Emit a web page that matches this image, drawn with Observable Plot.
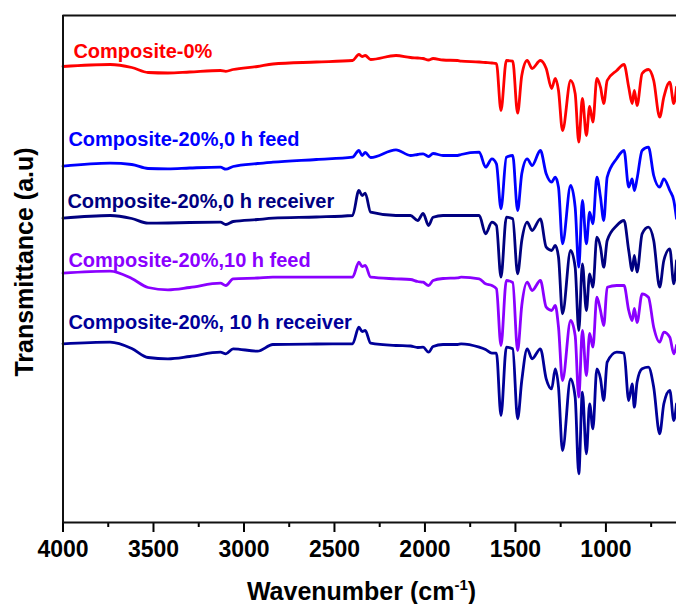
<!DOCTYPE html>
<html><head><meta charset="utf-8">
<script src="https://cdn.jsdelivr.net/npm/d3@7"></script>
<script src="https://cdn.jsdelivr.net/npm/@observablehq/plot@0.6"></script>
<style>
html,body{margin:0;padding:0;background:#fff}
#chart svg{display:block}
</style>
</head><body><div id="chart"></div>
<script>
// Wavenumbers (cm^-1) at which the spectra were read
const wavenumber = [4000, 3740, 3620, 3530, 3420, 3300, 3130, 3100, 3060, 2925, 2840, 2600, 2400, 2365, 2347, 2330, 2300, 2160, 2080, 2040, 2010, 1980, 1955, 1900, 1820,
  1800, 1700, 1665, 1630, 1605, 1580, 1550, 1515, 1488, 1465, 1435, 1408, 1362, 1330, 1300, 1280, 1262, 1240, 1195, 1170, 1150, 1130, 1108, 1090, 1072, 1050, 1030, 1012, 993, 940, 900, 874, 855, 843, 828, 800, 765, 736, 703, 680, 647, 625, 610];

// Transmittance (a.u., offset spectra)
const composite0 = [456, 458, 455, 450, 449.5, 450.5, 452, 451.2, 453, 456, 458.5, 460.5, 462, 468, 466, 467, 463, 467, 465, 464.5, 464, 462.5, 464, 462.5, 462,
  461.3, 460.5, 460, 459.5, 459, 412, 462, 461.3, 409.3, 447, 462, 454, 462, 454, 434, 444, 432, 392, 442, 429, 380.3, 424, 387, 416, 400.3, 444, 435.3, 419, 442, 452, 458, 435.3, 419, 432, 417, 449, 453, 442, 405.3, 425.3, 440.3, 419, 435.3];
const feed0h = [356.3, 359.3, 358, 354, 353.7, 354.5, 355.3, 353.3, 356, 359, 360.3, 363, 365.3, 372, 367, 370, 365, 372.7, 367, 368, 368.7, 366, 369, 367, 367,
  368, 370.3, 355.3, 363.7, 358.7, 313.7, 365.3, 367, 312, 348.7, 363.7, 357, 372, 348.7, 340.3, 345.3, 335.3, 278.7, 337, 315.3, 255.3, 322, 278.7, 310.3, 298.7, 345.3, 325.3, 302, 345.3, 364, 372, 335.3, 343.7, 332, 343.7, 372, 375.3, 347, 335.3, 343.7, 332, 322, 304];
const receiver0h = [304.3, 307, 304, 299.3, 299.5, 300, 300.3, 298, 301, 303, 304.3, 305.5, 307, 332, 327, 329.3, 310.3, 307, 307, 302, 309, 297, 305.3, 307, 307,
  307, 307, 288.7, 300.3, 297, 245.3, 305.3, 303.7, 248.7, 282, 300.3, 292, 303.7, 275.3, 272, 277, 265.3, 208.7, 272, 255.3, 192, 258.7, 212, 248.7, 235.3, 285.3, 275.3, 255.3, 282, 297, 302, 272, 252, 267, 250.3, 288.7, 295.3, 282, 235.3, 262, 273.7, 238.7, 262];
const feed10h = [249.3, 251.3, 244, 235, 232.7, 235, 239.3, 237, 243.7, 244.5, 245.3, 245.3, 245.3, 260.3, 256, 257, 245.3, 243.7, 243, 241, 240.3, 237, 242, 244, 244.7,
  245.3, 243.7, 238.7, 237, 233.7, 177, 242, 240, 172, 217, 240.3, 232, 242, 215.3, 212, 217, 195.3, 142, 202, 187, 125.3, 192, 147, 189, 175.3, 225.3, 212, 197, 235.3, 237, 237, 212, 202, 214, 200, 228.7, 225.3, 195.3, 180.3, 190.3, 185.3, 168.7, 177];
const receiver10h = [178.7, 180.3, 174, 165, 163.7, 166, 170.3, 168.7, 173.7, 171.3, 178, 178.5, 178.7, 195.3, 191, 192, 179.3, 177, 176.5, 175, 175.3, 170.3, 176, 178, 178,
  178.7, 175.3, 173, 169.3, 169.3, 107, 175.3, 173.7, 103.7, 142, 173.7, 163.7, 173.7, 143.7, 133.7, 153.7, 135.3, 72, 143.7, 125.3, 48.7, 130.3, 68.7, 118.7, 93.7, 153.7, 143.7, 122, 160.3, 170.3, 169.3, 122, 138.7, 115.3, 140.3, 153.7, 155.3, 135.3, 88.7, 118.7, 132, 102, 118.7];

const seriesNames = ["Composite-0%", "Composite-20%,0 h feed", "Composite-20%,0 h receiver", "Composite-20%,10 h feed", "Composite-20%, 10 h receiver"];
const seriesValues = [composite0, feed0h, receiver0h, feed10h, receiver10h];
const seriesColors = ["#ff0000", "#0000ff", "#000080", "#8a00ff", "#000099"];

const majorTicks = [4000, 3500, 3000, 2500, 2000, 1500, 1000];
const minorTicks = [3750, 3250, 2750, 2250, 1750, 1250, 750];
const xTitle = "Wavenumber (cm";
const xTitleSup = "-1";
const yTitle = "Transmittance (a.u)";

// presentation
const font = "'Liberation Sans', Arial, Helvetica, sans-serif";
const labelDy = [-15.4, -27.1, -17.1, -13.1, -21.7];
const labelDx = [5, 0, -1, 0, 0];

const rows = seriesNames.map((name, i) => wavenumber.map((w, j) => ({name, w, t: seriesValues[i][j]})));

const yMax = 507;
const chart = Plot.plot({
  width: 676, height: 604,
  marginLeft: 62.5, marginRight: 0, marginTop: 15, marginBottom: 82,
  style: {fontFamily: font, background: "#fff", overflow: "visible", color: "#000"},
  x: {domain: [4000, 610], label: null},
  y: {domain: [0, yMax], axis: null},
  marks: [
    ...rows.map((r, i) => Plot.line(r, {x: "w", y: "t", stroke: seriesColors[i], strokeWidth: 2.8, curve: "monotone-x", strokeLinejoin: "round"})),
    ...seriesNames.map((name, i) => Plot.text([{name, w: 3970, t: seriesValues[i][0]}], {
      x: "w", y: "t", text: "name", dx: labelDx[i], dy: labelDy[i], textAnchor: "start", lineAnchor: "middle",
      fill: seriesColors[i], fontSize: 20, fontWeight: "bold"
    })),
    Plot.axisX({ticks: majorTicks, tickSize: 10, tickPadding: 8, tickFormat: d => String(d), fontSize: 23, fontWeight: "bold", strokeWidth: 2, label: null}),
    Plot.axisX({ticks: minorTicks, tickSize: 5, text: null, strokeWidth: 2, label: null}),
    Plot.ruleX([4000], {stroke: "#111", strokeWidth: 2}),
    Plot.ruleY([0, yMax], {stroke: "#111", strokeWidth: 2})
  ]
});
document.getElementById("chart").appendChild(chart);

const svg = d3.select(chart);
const xt = svg.append("text")
  .attr("x", 361.5).attr("y", 600)
  .attr("text-anchor", "middle")
  .attr("font-family", font).attr("font-weight", "bold").attr("font-size", 25).attr("fill", "#000");
xt.append("tspan").text(xTitle);
xt.append("tspan").attr("dy", -10).attr("font-size", 15).text(xTitleSup);
xt.append("tspan").attr("dy", 10).text(")");

svg.append("text")
  .attr("transform", "translate(33,262) rotate(-90)")
  .attr("text-anchor", "middle")
  .attr("font-family", font).attr("font-weight", "bold").attr("font-size", 25).attr("fill", "#000")
  .text(yTitle);
</script>
</body></html>
